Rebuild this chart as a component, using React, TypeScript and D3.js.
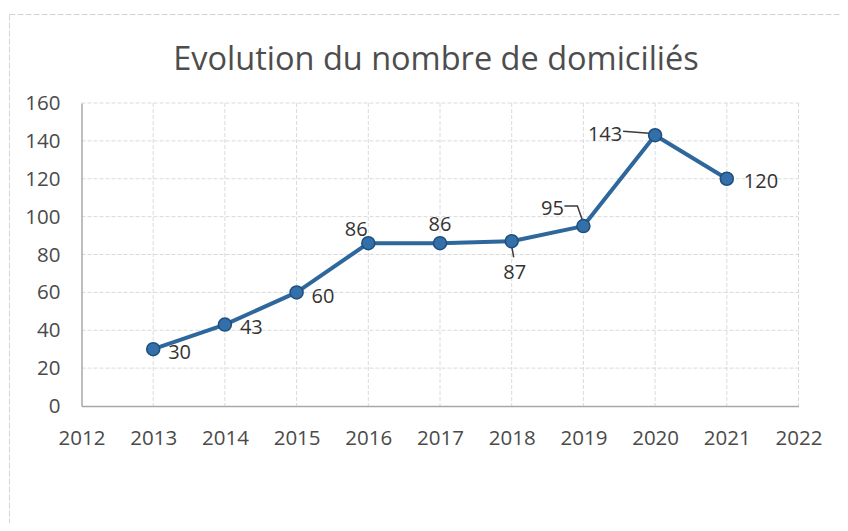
import React, { useRef, useEffect } from "react";
import * as d3 from "d3";

const years = [2013, 2014, 2015, 2016, 2017, 2018, 2019, 2020, 2021];
const domicilies = [30, 43, 60, 86, 86, 87, 95, 143, 120];
const xTickYears = [2012, 2013, 2014, 2015, 2016, 2017, 2018, 2019, 2020, 2021, 2022];
const yTickValues = [0, 20, 40, 60, 80, 100, 120, 140, 160];

// where each data label sits relative to its marker (dx, dy, anchor, leader line)
const labelPlacement = [
  { dx: 15, dy: 2, anchor: "start", leader: null },
  { dx: 15, dy: 2, anchor: "start", leader: null },
  { dx: 15, dy: 3, anchor: "start", leader: null },
  { dx: -12, dy: -15, anchor: "middle", leader: null },
  { dx: 0, dy: -20, anchor: "middle", leader: null },
  { dx: 3, dy: 30, anchor: "middle", leader: [[0, 5], [2, 16]] },
  { dx: -31, dy: -19, anchor: "middle", leader: [[0, -3], [-6, -20], [-19, -20]] },
  { dx: -50, dy: -2, anchor: "middle", leader: [[-6, -2], [-32, -4]] },
  { dx: 17, dy: 2, anchor: "start", leader: null },
];

const App = () => {
  const svgRef = useRef<SVGSVGElement>(null);

  useEffect(() => {
    const W = 848;
    const H = 531;
    const margin = { top: 103, right: 49.5, bottom: 125, left: 81.5 };
    const width = W - margin.left - margin.right;
    const height = H - margin.top - margin.bottom;

    const root = d3.select(svgRef.current);
    root.selectAll("*").remove();
    root.attr("width", W).attr("height", H);

    root.append("rect").attr("width", W).attr("height", H).attr("fill", "#ffffff");

    // outer chart frame
    root
      .append("rect")
      .attr("x", 9.5)
      .attr("y", 14.5)
      .attr("width", 831)
      .attr("height", 540)
      .attr("fill", "none")
      .attr("stroke", "#d4d4d4")
      .attr("stroke-dasharray", "6 2");

    root
      .append("text")
      .attr("x", 436)
      .attr("y", 70)
      .attr("text-anchor", "middle")
      .attr("font-family", "Open Sans, sans-serif")
      .attr("font-size", 32.5)
      .attr("fill", "#4d4d4d")
      .text("Evolution du nombre de domiciliés");

    const svg = root.append("g").attr("transform", `translate(${margin.left}, ${margin.top})`);

    const x = d3.scaleLinear().domain([2012, 2022]).range([0, width]);
    const y = d3.scaleLinear().domain([0, 160]).range([height, 0]);

    // grid
    svg
      .append("g")
      .selectAll("line")
      .data(yTickValues.filter((d) => d > 0))
      .join("line")
      .attr("x1", 0)
      .attr("x2", width)
      .attr("y1", (d) => y(d))
      .attr("y2", (d) => y(d))
      .attr("stroke", "#dadada")
      .attr("stroke-dasharray", "4 2");

    svg
      .append("g")
      .selectAll("line")
      .data(xTickYears.filter((d) => d > 2012))
      .join("line")
      .attr("x1", (d) => x(d))
      .attr("x2", (d) => x(d))
      .attr("y1", 0)
      .attr("y2", height)
      .attr("stroke", "#dadada")
      .attr("stroke-dasharray", "4 2");

    // axes
    const xAxis = d3.axisBottom(x).tickValues(xTickYears).tickFormat(d3.format("d")).tickSize(0).tickPadding(24);
    const yAxis = d3.axisLeft(y).tickValues(yTickValues).tickSize(0).tickPadding(21);

    const gx = svg.append("g").attr("transform", `translate(0, ${height})`).call(xAxis);
    const gy = svg.append("g").call(yAxis);

    [gx, gy].forEach((g) => {
      g.select(".domain").attr("stroke", "#a8a8a8").attr("stroke-width", 1.5);
      g.selectAll("text")
        .attr("font-family", "Open Sans, sans-serif")
        .attr("font-size", 20.5)
        .attr("fill", "#4a4a4a");
    });

    // series
    const line = d3
      .line<number>()
      .x((d, i) => x(years[i]))
      .y((d) => y(d));

    svg
      .append("path")
      .datum(domicilies)
      .attr("d", line)
      .attr("fill", "none")
      .attr("stroke", "#2d679c")
      .attr("stroke-width", 4)
      .attr("stroke-linejoin", "round");

    // leader lines
    svg
      .append("g")
      .selectAll("path")
      .data(domicilies)
      .join("path")
      .attr("d", (d, i) => {
        const p = labelPlacement[i];
        if (!p.leader) return "";
        const cx = x(years[i]);
        const cy = y(d);
        return "M" + p.leader.map(([a, b]) => `${cx + a},${cy + b}`).join("L");
      })
      .attr("fill", "none")
      .attr("stroke", "#3a3a3a")
      .attr("stroke-width", 1.5);

    svg
      .append("g")
      .selectAll("circle")
      .data(domicilies)
      .join("circle")
      .attr("cx", (d, i) => x(years[i]))
      .attr("cy", (d) => y(d))
      .attr("r", 6.5)
      .attr("fill", "#336fa8")
      .attr("stroke", "#1f4f7e")
      .attr("stroke-width", 1.5);

    svg
      .append("g")
      .selectAll("text")
      .data(domicilies)
      .join("text")
      .attr("x", (d, i) => x(years[i]) + labelPlacement[i].dx)
      .attr("y", (d) => y(d))
      .attr("dy", (d, i) => labelPlacement[i].dy + 7.5)
      .attr("text-anchor", (d, i) => labelPlacement[i].anchor)
      .attr("font-family", "Open Sans, sans-serif")
      .attr("font-size", 20)
      .attr("fill", "#333333")
      .text((d) => d);
  }, []);

  return (
    <div style={{ margin: -8 }}>
      <svg ref={svgRef} style={{ display: "block" }}></svg>
    </div>
  );
};

export default App;
